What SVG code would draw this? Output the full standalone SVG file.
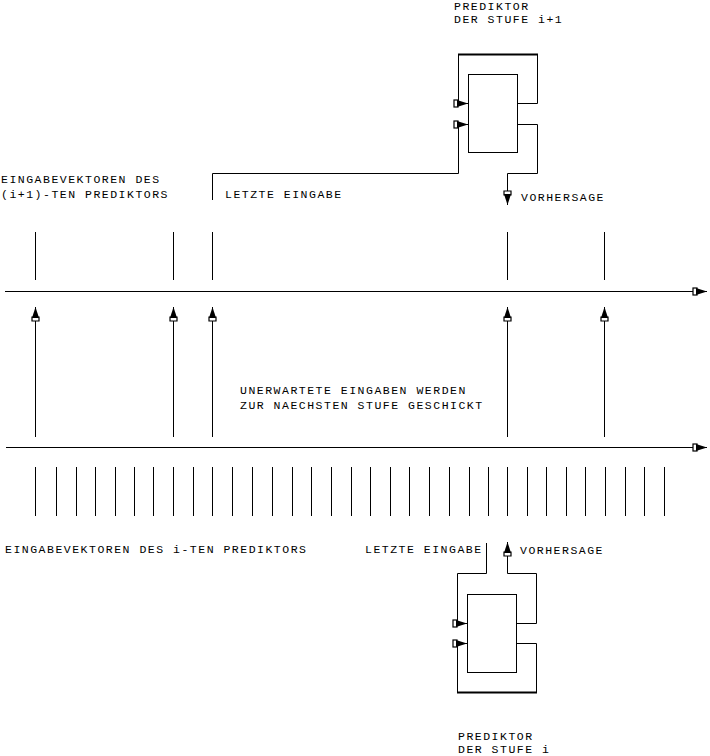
<svg xmlns="http://www.w3.org/2000/svg" width="710" height="756" viewBox="0 0 710 756">
<style>
text{font-family:"Liberation Mono","Courier New",monospace;font-size:11.5px;letter-spacing:1.5px;fill:#000}
.l{fill:none;stroke:#000;stroke-width:1}
.a{fill:none;stroke:#000;stroke-width:1;marker-end:url(#ah)}
.box{fill:#fff;stroke:#000;stroke-width:1}
</style>
<defs>
<marker id="ah" markerUnits="userSpaceOnUse" markerWidth="18" markerHeight="12" viewBox="-16 -6 18 12" refX="0" refY="0" orient="auto">
<rect x="-14" y="-3.5" width="4" height="7" fill="#fff" stroke="#000" stroke-width="1.2"/>
<path d="M-11,-3.5 L0,0 L-11,3.5 Z" fill="#000"/>
</marker>
</defs>
<rect width="710" height="756" fill="#fff"/>
<g id="connectors">
<line class="a" x1="5" y1="291.5" x2="707" y2="291.5"/>
<line class="a" x1="6" y1="447.5" x2="707" y2="447.5"/>
<path class="l" d="M35.5,232V280M173.5,232V280M212.5,232V280M507.5,232V280M604.5,232V280"/>
<line class="a" x1="35.5" y1="437" x2="35.5" y2="307"/>
<line class="a" x1="173.5" y1="437" x2="173.5" y2="307"/>
<line class="a" x1="212.5" y1="437" x2="212.5" y2="307"/>
<line class="a" x1="507.5" y1="437" x2="507.5" y2="307"/>
<line class="a" x1="604.5" y1="437" x2="604.5" y2="307"/>
<path class="l" d="M35.5,467V516M56.5,467V516M76.5,467V516M95.5,467V516M115.5,467V516M134.5,467V516M153.5,467V516M173.5,467V516M193.5,467V516M212.5,467V516M232.5,467V516M252.5,467V516M272.5,467V516M292.5,467V516M311.5,467V516M331.5,467V516M351.5,467V516M370.5,467V516M390.5,467V516M409.5,467V516M429.5,467V516M449.5,467V516M469.5,467V516M488.5,467V516M507.5,467V516M527.5,467V516M546.5,467V516M566.5,467V516M585.5,467V516M605.5,467V516M625.5,467V516M644.5,467V516M664.5,467V516"/>
<path class="a" d="M518,103.5H537.5V54.5H458.5V103.5H468"/>
<line x1="458" y1="54.5" x2="538" y2="54.5" stroke="#000" stroke-width="2"/>
<path class="a" d="M518,124.5H537.5V173.5H507.5V205"/>
<path class="a" d="M212.5,200V173.5H458.5V124.5H468"/>
<path class="a" d="M517,623.5H536.5V573.5H507.5V542"/>
<path class="a" d="M486.5,543V573.5H457.5V623.5H467"/>
<path class="a" d="M517,643.5H536.5V692.5H457.5V643.5H467"/>
<line x1="457" y1="692.5" x2="537" y2="692.5" stroke="#000" stroke-width="2"/>
</g>
<g id="pred-upper">
<rect class="box" x="468.5" y="74.5" width="49" height="78"/>
<text x="454" y="10">PREDIKTOR</text>
<text x="454" y="23">DER STUFE i+1</text>
</g>
<g id="pred-lower">
<rect class="box" x="467.5" y="594.5" width="49" height="78"/>
<text x="458" y="740">PREDIKTOR</text>
<text x="458" y="753">DER STUFE i</text>
</g>
<g id="labels">
<text x="1" y="183">EINGABEVEKTOREN DES</text>
<text x="1" y="198">(i+1)-TEN PREDIKTORS</text>
<text x="225" y="198">LETZTE EINGABE</text>
<text x="521" y="201">VORHERSAGE</text>
<text x="240" y="394">UNERWARTETE EINGABEN WERDEN</text>
<text x="240" y="409">ZUR NAECHSTEN STUFE GESCHICKT</text>
<text x="5" y="553">EINGABEVEKTOREN DES i-TEN PREDIKTORS</text>
<text x="365" y="553">LETZTE EINGABE</text>
<text x="520" y="554">VORHERSAGE</text>
</g>
</svg>
